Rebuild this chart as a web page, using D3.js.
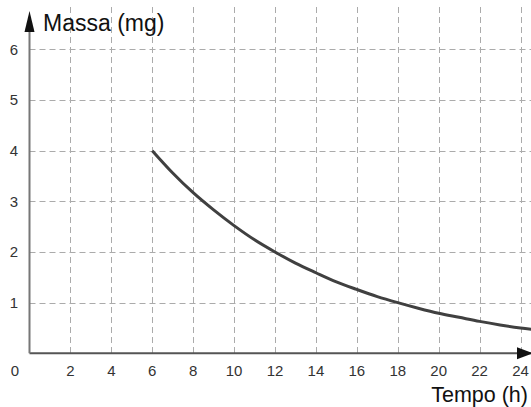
<!DOCTYPE html>
<html><head><meta charset="utf-8">
<script src="https://cdn.jsdelivr.net/npm/d3@7"></script>
<style>body{margin:0;background:#fff}svg{display:block;font-family:"Liberation Sans",Arial,sans-serif}</style>
</head><body>
<svg id="c" width="531" height="407"></svg>
<script>
const timeHours = [6,7,8,9,10,11,12,13,14,15,16,17,18,19,20,21,22,23,24,25];
const massMg = [4,3.56,3.17,2.83,2.52,2.24,2,1.78,1.59,1.41,1.26,1.12,1,0.89,0.79,0.71,0.63,0.56,0.5,0.45];
const xTicks = [2,4,6,8,10,12,14,16,18,20,22,24];
const yTicks = [1,2,3,4,5,6];
const xTitle = "Tempo (h)";
const yTitle = "Massa (mg)";

const W = 531, H = 407;
const svg = d3.select("#c");
const x = d3.scaleLinear().domain([0,24]).range([29.5,520.5]);
const y = d3.scaleLinear().domain([0,6]).range([353.3,49.3]);

const grid = svg.append("g").attr("stroke","#ababab").attr("stroke-width",1).attr("stroke-dasharray","6,4").attr("fill","none");
grid.selectAll("line.v").data(xTicks).join("line").attr("class","v")
  .attr("x1",d=>Math.round(x(d))+0.5).attr("x2",d=>Math.round(x(d))+0.5).attr("y1",7).attr("y2",y(0));
grid.selectAll("line.h").data(yTicks).join("line").attr("class","h")
  .attr("x1",x(0)).attr("x2",W).attr("y1",d=>Math.round(y(d))+0.5).attr("y2",d=>Math.round(y(d))+0.5);

// curve
const line = d3.line().x((d,i)=>x(timeHours[i])).y(d=>y(d)).curve(d3.curveMonotoneX);
svg.append("path").datum(massMg).attr("d",line).attr("fill","none").attr("stroke","#404040").attr("stroke-width",3);

// axes
svg.append("line").attr("x1",x(0)).attr("x2",W).attr("y1",y(0)).attr("y2",y(0)).attr("stroke","#555").attr("stroke-width",2);
svg.append("line").attr("x1",x(0)).attr("x2",x(0)).attr("y1",y(0)).attr("y2",20).attr("stroke","#777").attr("stroke-width",2);
// arrows
const x0 = x(0);
svg.append("path").attr("d",`M${x0},11 L${x0-5},32 L${x0+5},32 Z`).attr("fill","#111");
const y0 = y(0);
svg.append("path").attr("d",`M${W+2},${y0} L${W-14},${y0-6} L${W-14},${y0+6} Z`).attr("fill","#111");

// tick labels
const lab = svg.append("g").attr("fill","#333").attr("font-size",15);
lab.selectAll("text.x").data(xTicks).join("text").attr("class","x")
  .attr("x",d=>x(d)).attr("y",376).attr("text-anchor","middle").text(d=>d);
lab.selectAll("text.y").data(yTicks).join("text").attr("class","y")
  .attr("x",14).attr("y",d=>y(d)+5.5).attr("text-anchor","middle").text(d=>d);
lab.append("text").attr("x",15).attr("y",376).attr("text-anchor","middle").text("0");

svg.append("text").attr("x",43).attr("y",31).attr("font-size",23).attr("fill","#111").text(yTitle);
svg.append("text").attr("x",528).attr("y",402).attr("text-anchor","end").attr("font-size",21.5).attr("fill","#111").text(xTitle);
</script>
</body></html>
